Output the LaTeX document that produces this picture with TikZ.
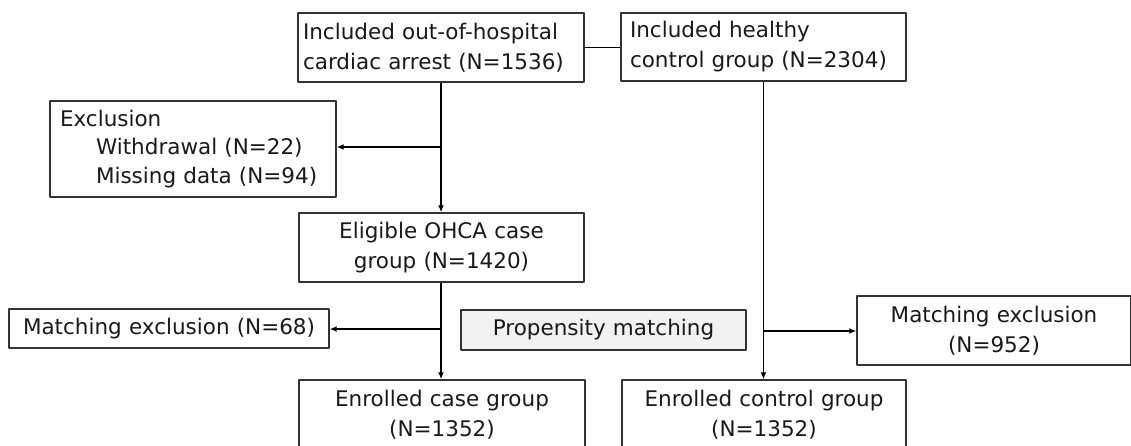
\documentclass[tikz,border=0pt]{standalone}
\usepackage{fontspec}
\setmainfont{DejaVu Sans}
\usetikzlibrary{arrows.meta}
\tikzset{
  flowbox/.style={draw=black!80,line width=1.4bp,inner xsep=5bp,inner ysep=0bp,
    font=\fontsize{21.5bp}{30bp}\selectfont,text=black!90},
  grpbox/.style={flowbox,fill=black!5},
}
\begin{document}
\begin{tikzpicture}[>={Latex[length=7bp,width=6bp]},line join=bevel,]
\useasboundingbox (0bp,0bp) rectangle (1131bp,446bp);
%%
\node (node_ohca) at (441bp,398.5bp) [flowbox,text width=276bp,minimum height=69bp,align=left] {Included out-of-hospital\\cardiac arrest (N=1536)};
  \node (node_ctrl) at (763.5bp,399bp) [flowbox,inner xsep=9bp,text width=267bp,minimum height=68bp,align=left] {Included healthy\\control group (N=2304)};
  \node (node_excl) at (193bp,297bp) [flowbox,inner xsep=10bp,text width=266bp,minimum height=96bp,align=left,font=\fontsize{21.5bp}{28.5bp}\selectfont] {Exclusion\\\hspace*{36bp}Withdrawal (N=22)\\\hspace*{36bp}Missing data (N=94)};
  \node (node_elig) at (441.5bp,198.5bp) [flowbox,text width=275bp,minimum height=69bp,align=center] {Eligible OHCA case\\group (N=1420)};
  \node (node_mexcl) at (169bp,117.5bp) [flowbox,text width=310bp,minimum height=39bp,align=center] {Matching exclusion (N=68)};
  \node (node_psm) at (603.5bp,116bp) [grpbox,text width=275bp,minimum height=40bp,align=center] {Propensity matching};
  \node (node_mexcl2) at (994bp,115.5bp) [flowbox,text width=264bp,minimum height=69bp,align=center] {Matching exclusion\\(N=952)};
  \node (node_case) at (442bp,31bp) [flowbox,text width=276bp,minimum height=70bp,align=center] {Enrolled case group\\(N=1352)};
  \node (node_enctrl) at (764bp,31bp) [flowbox,text width=274bp,minimum height=70bp,align=center] {Enrolled control group\\(N=1352)};
  \coordinate (split_0) at (441bp,299bp);
  \coordinate (split_1) at (441bp,117bp);
  \coordinate (split_2) at (763.5bp,115bp);
  \draw [black,line width=1.4bp] (node_ohca.east) -- (node_ohca.east -| node_ctrl.west);
  \draw [black,line width=1.4bp,->] (node_ohca.south -| split_0) -- (node_elig.north -| split_0);
  \draw [black,line width=1.4bp,->] (split_0) -- (split_0 -| node_excl.east);
  \draw [black,line width=1.4bp,->] (node_elig.south -| split_1) -- (node_case.north -| split_1);
  \draw [black,line width=1.4bp,->] (split_1) -- (split_1 -| node_mexcl.east);
  \draw [black,line width=1.4bp,->] (node_ctrl.south -| split_2) -- (node_enctrl.north -| split_2);
  \draw [black,line width=1.4bp,->] (split_2) -- (split_2 -| node_mexcl2.west);
%
\end{tikzpicture}
\end{document}
